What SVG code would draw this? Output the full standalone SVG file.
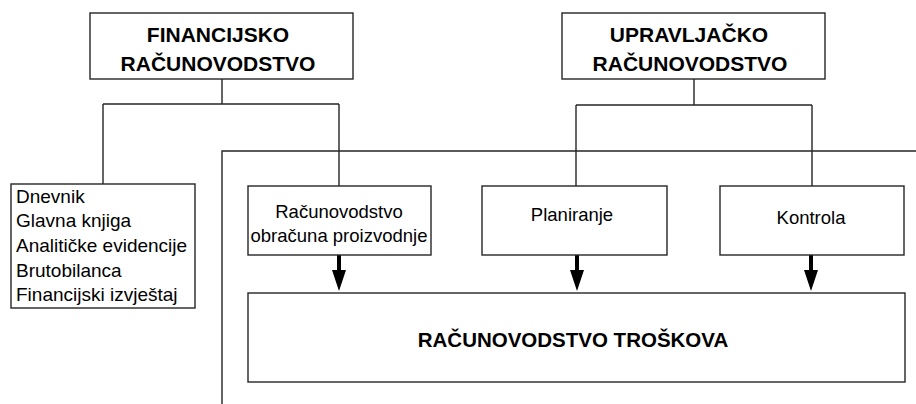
<svg xmlns="http://www.w3.org/2000/svg" width="916" height="404" viewBox="0 0 916 404">
<defs>
<style>
.box{fill:#fff;stroke:#262626;stroke-width:1.4}
.ln{fill:none;stroke:#262626;stroke-width:1.4}
.h{font-family:"Liberation Sans",Arial,sans-serif;font-weight:bold;font-size:21px;fill:#000;text-anchor:middle}
.t{font-family:"Liberation Sans",Arial,sans-serif;font-size:18.5px;fill:#000;text-anchor:middle}
.l{font-family:"Liberation Sans",Arial,sans-serif;font-size:19px;fill:#000}
.b{font-family:"Liberation Sans",Arial,sans-serif;font-weight:bold;font-size:20.5px;fill:#000;text-anchor:middle}
.arr{fill:#000}
</style>
</defs>
<rect width="916" height="404" fill="#fff"/>
<g id="connectors">
<path class="ln" d="M222 79V104M103 104H339M103 104V184M339 104V186"/>
<path class="ln" d="M694 79V105M576 105H812M576 105V186M812 105V186"/>
<path class="ln" d="M916 151H222V404"/>
<g class="arr">
<path d="M337 255h4v15h5l-7 21l-7-21h5z"/>
<path d="M575 255h4v15h5l-7 21l-7-21h5z"/>
<path d="M809 255h4v15h5l-7 21l-7-21h5z"/>
</g>
</g>
<g id="financijsko">
<rect class="box" x="90" y="13" width="263" height="66"/>
<text class="h" x="218" y="42">FINANCIJSKO</text>
<text class="h" x="218" y="71">RAČUNOVODSTVO</text>
</g>
<g id="upravljacko">
<rect class="box" x="562" y="13" width="263" height="66"/>
<text class="h" x="689" y="42">UPRAVLJAČKO</text>
<text class="h" x="690" y="71">RAČUNOVODSTVO</text>
</g>
<g id="lista">
<rect class="box" x="11" y="184" width="184" height="124"/>
<text class="l" x="16" y="203">Dnevnik</text>
<text class="l" x="16" y="227">Glavna knjiga</text>
<text class="l" x="16" y="252">Analitičke evidencije</text>
<text class="l" x="16" y="277">Brutobilanca</text>
<text class="l" x="16" y="301">Financijski izvještaj</text>
</g>
<g id="obracun">
<rect class="box" x="248" y="186" width="183" height="69"/>
<text class="t" x="339" y="218">Računovodstvo</text>
<text class="t" x="339" y="242">obračuna proizvodnje</text>
</g>
<g id="planiranje">
<rect class="box" x="482" y="186" width="185" height="69"/>
<text class="t" x="572" y="221">Planiranje</text>
</g>
<g id="kontrola">
<rect class="box" x="720" y="186" width="184" height="69"/>
<text class="t" x="811" y="224">Kontrola</text>
</g>
<g id="troskovi">
<rect class="box" x="248" y="293" width="657" height="89"/>
<text class="b" x="573" y="347">RAČUNOVODSTVO TROŠKOVA</text>
</g>
</svg>
